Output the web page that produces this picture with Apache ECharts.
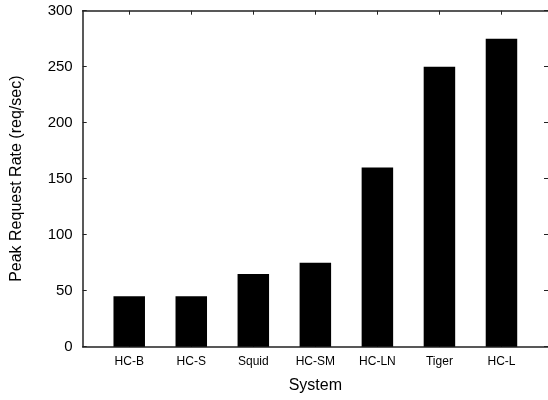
<!DOCTYPE html>
<html>
<head>
<meta charset="utf-8">
<script src="https://cdn.jsdelivr.net/npm/echarts@6/dist/echarts.min.js"></script>
<style>
  html, body { margin: 0; padding: 0; background: #fff; }
  #chart { width: 548px; height: 400px; }
</style>
</head>
<body>
<div id="chart"></div>
<script>
// systems on the x axis, placed at positions 1..7
const systems = ["HC-B", "HC-S", "Squid", "HC-SM", "HC-LN", "Tiger", "HC-L"];
const peakRate = [45, 45, 65, 75, 160, 250, 275];
const yTicks = [0, 50, 100, 150, 200, 250, 300];

const positions = systems.map((s, i) => i + 1);
const font = "'Liberation Sans', Arial, Helvetica, sans-serif";
const frame = { show: true, onZero: false, lineStyle: { color: "#222", width: 1.5 } };

const chart = echarts.init(document.getElementById("chart"), null, { renderer: "canvas" });

const option = {
  animation: false,
  backgroundColor: "#fff",
  grid: { left: 82.7, top: 10.7, right: -2.5, bottom: 53.3, containLabel: false },
  xAxis: [
    {
      type: "value",
      position: "bottom",
      min: 0.25,
      max: 7.75,
      name: "System",
      nameLocation: "middle",
      nameGap: 31,
      nameTextStyle: { fontFamily: font, fontSize: 16, color: "#000" },
      axisLine: frame,
      axisTick: { show: true, inside: true, length: 4, customValues: positions, lineStyle: { color: "#222" } },
      axisLabel: {
        customValues: positions,
        formatter: (v) => systems[Math.round(v) - 1] || "",
        fontFamily: font,
        fontSize: 12,
        color: "#000",
        margin: 9
      },
      splitLine: { show: false }
    },
    {
      type: "value",
      position: "top",
      min: 0.25,
      max: 7.75,
      axisLine: frame,
      axisTick: { show: true, inside: true, length: 4, customValues: positions, lineStyle: { color: "#222" } },
      axisLabel: { show: false },
      splitLine: { show: false }
    }
  ],
  yAxis: [
    {
      type: "value",
      position: "left",
      min: yTicks[0],
      max: yTicks[yTicks.length - 1],
      interval: 50,
      name: "Peak Request Rate (req/sec)",
      nameLocation: "middle",
      nameGap: 58,
      nameRotate: 90,
      nameTextStyle: { fontFamily: font, fontSize: 16, color: "#000" },
      axisLine: frame,
      axisTick: { show: true, inside: true, length: 4, lineStyle: { color: "#222" } },
      axisLabel: { fontFamily: font, fontSize: 15, color: "#000", margin: 10 },
      splitLine: { show: false }
    },
    {
      type: "value",
      position: "right",
      min: yTicks[0],
      max: yTicks[yTicks.length - 1],
      interval: 50,
      axisLine: { show: false },
      axisTick: { show: true, inside: true, length: 4, lineStyle: { color: "#222" } },
      axisLabel: { show: false },
      splitLine: { show: false }
    }
  ],
  series: [
    {
      type: "bar",
      xAxisIndex: 0,
      yAxisIndex: 0,
      barWidth: 31.5,
      itemStyle: { color: "#000" },
      data: positions.map((x, i) => [x, peakRate[i]])
    }
  ]
};

chart.setOption(option);
</script>
</body>
</html>
